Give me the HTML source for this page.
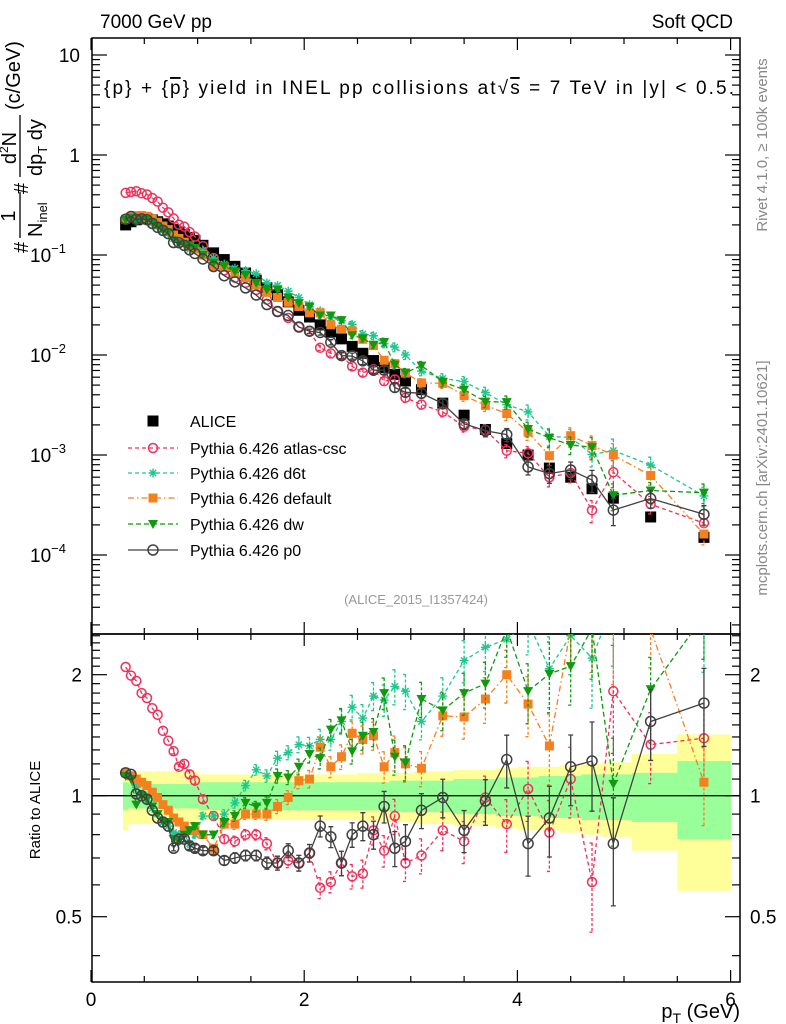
<!DOCTYPE html>
<html><head><meta charset="utf-8"><style>
body{margin:0;background:#fff;width:786px;height:1024px;overflow:hidden}
svg{font-family:"Liberation Sans",sans-serif;display:block}
</style></head><body>
<svg id="chart" width="786" height="1024" viewBox="0 0 786 1024" xmlns="http://www.w3.org/2000/svg">
<defs>
<clipPath id="clipTop"><rect x="92" y="38" width="648" height="596"/></clipPath>
<clipPath id="clipBot"><rect x="92" y="634" width="648" height="348"/></clipPath>
</defs>
<text x="100" y="28" font-size="19">7000 GeV pp</text>
<text x="733" y="28" font-size="19" text-anchor="end">Soft QCD</text>
<text x="104" y="94" font-size="19" textLength="630" lengthAdjust="spacing">{p} + {<tspan text-decoration="overline">p</tspan>} yield in INEL pp collisions at√<tspan text-decoration="overline">s</tspan> =  7 TeV in |y| &lt; 0.5.</text>
<text x="416" y="604" font-size="13" fill="#999" text-anchor="middle">(ALICE_2015_I1357424)</text>
<text transform="translate(767,145) rotate(-90)" font-size="15" fill="#888" text-anchor="middle">Rivet 4.1.0, ≥ 100k events</text>
<text transform="translate(767,478) rotate(-90)" font-size="15" fill="#888" text-anchor="middle">mcplots.cern.ch [arXiv:2401.10621]</text>
<g transform="rotate(-90)" font-size="20">
<text x="-253" y="28">#</text>
<text x="-216" y="15" text-anchor="middle">1</text>
<line x1="-238" y1="20" x2="-192" y2="20" stroke="#000" stroke-width="1.3"/>
<text x="-237" y="42">N<tspan font-size="13" dy="5">inel</tspan></text>
<text x="-194" y="28">#</text>
<text x="-148" y="16" text-anchor="middle">d<tspan font-size="12" dy="-8">2</tspan><tspan dy="8">N</tspan></text>
<line x1="-177" y1="20" x2="-115" y2="20" stroke="#000" stroke-width="1.3"/>
<text x="-176" y="42">dp<tspan font-size="13" dy="5">T</tspan><tspan dy="-5"> dy</tspan></text>
<text x="-110" y="20">(c/GeV)</text>
</g>
<text transform="translate(40,810) rotate(-90)" font-size="15" text-anchor="middle">Ratio to ALICE</text>
<text x="740" y="1018" font-size="20" text-anchor="end">p<tspan font-size="14" dy="5">T</tspan><tspan dy="-5"> (GeV)</tspan></text>
<g id="bands" clip-path="url(#clipBot)"></g>
<g id="axes"></g>
<g id="topData" clip-path="url(#clipTop)"></g>
<g id="botData" clip-path="url(#clipBot)"></g>
<g id="legend"></g>
</svg>
<script>
const pT=[0.325,0.375,0.425,0.475,0.525,0.575,0.625,0.675,0.725,0.775,0.825,0.875,0.925,0.975,
1.05,1.15,1.25,1.35,1.45,1.55,1.65,1.75,1.85,1.95,2.05,2.15,2.25,2.35,2.45,2.55,2.65,2.75,2.85,2.95,
3.1,3.3,3.5,3.7,3.9,4.1,4.3,4.5,4.7,4.9,5.25,5.75];
const alice=[0.20,0.215,0.225,0.23,0.23,0.225,0.215,0.205,0.195,0.18,0.17,0.16,0.15,0.14,
0.125,0.105,0.09,0.077,0.066,0.056,0.047,0.040,0.034,0.028,0.024,0.020,0.017,0.0145,0.0122,0.0104,0.0088,0.0075,0.0064,0.0055,
0.0045,0.0033,0.0025,0.0018,0.0013,0.0010,0.00074,0.0006,0.00046,0.00037,0.00024,0.00015];
const rAtlas=[2.09,1.99,1.93,1.80,1.75,1.65,1.59,1.45,1.37,1.29,1.18,1.20,1.13,1.09,
0.98,0.89,0.78,0.77,0.80,0.80,0.76,0.68,0.69,0.68,0.72,0.59,0.61,0.68,0.63,0.64,0.82,0.73,0.89,0.68,
0.71,0.82,0.77,0.99,0.85,1.04,0.81,1.10,0.61,1.82,1.34,1.39];
const rD6t=[1.13,1.12,1.05,1.0,0.97,0.93,0.90,0.86,0.84,0.81,0.80,0.80,0.76,0.80,
0.89,0.89,0.90,0.96,1.06,1.16,1.12,1.24,1.28,1.34,1.33,1.38,1.38,1.53,1.66,1.56,1.77,1.73,1.87,1.82,
1.53,1.77,2.17,2.34,2.45,2.7,2.07,2.5,2.2,3.0,3.3,2.6];
const rDefault=[1.14,1.12,1.10,1.08,1.06,1.02,0.99,0.95,0.92,0.88,0.86,0.84,0.82,0.82,
0.80,0.74,0.85,0.85,0.90,0.90,0.90,0.94,0.99,1.09,1.10,1.32,1.18,1.25,1.43,1.38,1.41,1.18,1.28,1.20,
1.17,1.58,1.57,1.74,2.0,1.69,1.33,2.6,2.7,2.7,2.6,1.08];
const rDw=[1.12,1.10,0.95,1.0,0.98,0.94,0.90,0.86,0.86,0.78,0.77,0.80,0.82,0.84,
0.80,0.80,0.86,0.89,0.96,0.94,0.96,1.12,1.11,1.18,1.27,1.24,1.46,1.54,1.29,1.41,1.44,1.80,1.25,1.21,
1.74,1.63,1.80,1.90,2.6,1.82,2.01,2.10,2.6,1.07,1.84,2.8];
const rP0=[1.14,1.13,1.01,1.0,0.98,0.92,0.88,0.86,0.84,0.74,0.78,0.78,0.75,0.74,
0.73,0.73,0.69,0.70,0.71,0.71,0.68,0.68,0.73,0.68,0.72,0.84,0.79,0.68,0.80,0.84,0.80,0.94,0.74,0.77,
0.92,0.99,0.82,0.97,1.23,0.76,0.88,1.18,1.22,0.76,1.53,1.70];
const totRel=[0.18,0.15,0.15,0.15,0.15,0.15,0.15,0.15,0.15,0.15,0.15,0.15,0.15,0.15,
0.13,0.13,0.13,0.13,0.13,0.13,0.13,0.13,0.13,0.13,0.13,0.13,0.13,0.13,0.13,0.14,0.14,0.14,0.14,0.14,
0.15,0.15,0.16,0.16,0.17,0.18,0.18,0.19,0.20,0.21,0.27,0.42];
const statRel=[0.08,0.07,0.07,0.07,0.07,0.07,0.07,0.07,0.07,0.07,0.07,0.07,0.07,0.07,
0.08,0.08,0.08,0.08,0.08,0.08,0.08,0.08,0.08,0.08,0.08,0.08,0.08,0.08,0.08,0.08,0.08,0.08,0.09,0.09,
0.09,0.09,0.10,0.10,0.11,0.11,0.12,0.12,0.13,0.13,0.14,0.22];
const errRel=[0.01,0.01,0.01,0.01,0.01,0.01,0.01,0.01,0.01,0.015,0.015,0.015,0.02,0.02,
0.02,0.02,0.025,0.03,0.03,0.03,0.035,0.04,0.04,0.045,0.05,0.06,0.06,0.07,0.07,0.08,0.08,0.09,0.1,0.1,
0.1,0.11,0.12,0.13,0.15,0.17,0.2,0.2,0.25,0.3,0.2,0.22];
const yTickTop=["10","1","10^-1","10^-2","10^-3","10^-4"];
const xTickLabels=["0","2","4","6"];
const ratioTickLabels=["0.5","1","2"];

const NS="http://www.w3.org/2000/svg";
const X=v=>91+106.6*v;
const YT=v=>155-100*Math.log10(v);
const YR=r=>795.7-121*Math.log2(r);
function mk(tag,attrs,parent){const e=document.createElementNS(NS,tag);for(const k in attrs)e.setAttribute(k,attrs[k]);parent.appendChild(e);return e;}
const axes=document.getElementById('axes');
const bands=document.getElementById('bands');
const topG=document.getElementById('topData');
const botG=document.getElementById('botData');
const legG=document.getElementById('legend');

const edges=[pT[0]-0.025];
for(let i=1;i<pT.length;i++)edges.push((pT[i-1]+pT[i])/2);
edges.push(6.0);
for(let i=0;i<pT.length;i++){
  const y=mk('rect',{x:X(edges[i]),y:YR(1+totRel[i]),width:X(edges[i+1])-X(edges[i])+0.3,height:YR(1-totRel[i])-YR(1+totRel[i]),fill:'#ffff99'},bands);
  
  
}
for(let i=0;i<pT.length;i++){
  const g=mk('rect',{x:X(edges[i]),y:YR(1+statRel[i]),width:X(edges[i+1])-X(edges[i])+0.3,height:YR(1-statRel[i])-YR(1+statRel[i]),fill:'#99ff99'},bands);
  
  
}
const one=mk('line',{x1:92,x2:740,y1:YR(1),y2:YR(1),stroke:'#000','stroke-width':1.3},bands);



const f1=mk('rect',{x:92,y:38,width:648,height:596,fill:'none',stroke:'#000','stroke-width':1.5},axes);


const f2=mk('rect',{x:92,y:634,width:648,height:348,fill:'none',stroke:'#000','stroke-width':1.5},axes);



function tick(x1,y1,x2,y2){const t=mk('line',{x1,y1,x2,y2,stroke:'#000','stroke-width':1.2},axes);}
for(let v=0;v<=6.01;v+=0.5){
  const major=Math.abs(v-Math.round(v/2)*2)<0.01;const L=major?12:6;const x=X(v);if(x>740)continue;
  tick(x,38,x,38+L);tick(x,634,x,634-L);tick(x,634,x,634+L);tick(x,982,x,982-L);
}
xTickLabels.forEach((s,i)=>{const t=mk('text',{x:X(i*2),y:1006,'font-size':19,'text-anchor':'middle'},axes);t.textContent=s;
  
  });
for(let d=-5;d<=1;d++){for(let m=1;m<=9;m++){const v=m*Math.pow(10,d);const y=YT(v);if(y<38||y>634)continue;const L=m==1?15:8;tick(92,y,92+L,y);tick(740,y,740-L,y);}}
yTickTop.forEach((s,i)=>{const y=YT(Math.pow(10,1-i));const t=mk('text',{x:80,y:y+7,'font-size':19,'text-anchor':'end'},axes);
  
  
  if(s.includes('^')){const [b,e]=s.split('^');t.setAttribute('x',66);t.textContent=b;const sp=mk('tspan',{'font-size':13,dy:-9},t);sp.textContent=e.replace('-','−');}else t.textContent=s;});
for(let k=3;k<=25;k++){const r=k/10;const y=YR(r);if(y<634||y>982)continue;const L=(k==5||k==10||k==20)?15:8;tick(92,y,92+L,y);tick(740,y,740-L,y);}
ratioTickLabels.forEach(s=>{const y=YR(parseFloat(s));
  const a=mk('text',{x:82,y:y+7,'font-size':19,'text-anchor':'end'},axes);a.textContent=s;
  
  
  const b=mk('text',{x:750,y:y+7,'font-size':19},axes);b.textContent=s;
  
  });

function marker(g,type,color,x,y,s){
  if(type=='sqfill')return mk('rect',{x:x-s,y:y-s,width:2*s,height:2*s,fill:color},g);
  if(type=='circ')return mk('circle',{cx:x,cy:y,r:s,fill:'none',stroke:color,'stroke-width':1.5},g);
  if(type=='tri')return mk('path',{d:`M${x-s},${y-s*0.8}L${x+s},${y-s*0.8}L${x},${y+s}Z`,fill:color},g);
  if(type=='star'){const p=mk('path',{d:`M${x-s},${y}H${x+s}M${x},${y-s}V${y+s}M${x-s*0.7},${y-s*0.7}L${x+s*0.7},${y+s*0.7}M${x-s*0.7},${y+s*0.7}L${x+s*0.7},${y-s*0.7}`,stroke:color,'stroke-width':1.4,fill:'none'},g);return p;}
}
const series=[
  {name:'Pythia 6.426 atlas-csc',key:'atlas-csc',r:rAtlas,color:'#f0305a',m:'circ',s:4.5,dash:'4,3'},
  {name:'Pythia 6.426 d6t',key:'d6t',r:rD6t,color:'#1ec88c',m:'star',s:4.5,dash:'4,3'},
  {name:'Pythia 6.426 default',key:'default',r:rDefault,color:'#f58020',m:'sqfill',s:4.5,dash:'6,3,1.5,3'},
  {name:'Pythia 6.426 dw',key:'dw',r:rDw,color:'#119911',m:'tri',s:5,dash:'5,3'},
  {name:'Pythia 6.426 p0',key:'p0',r:rP0,color:'#404040',m:'circ',s:5,dash:''}
];
for(let i=0;i<pT.length;i++){const m=marker(topG,'sqfill','#000',X(pT[i]),YT(alice[i]),5.5);
  
  }
series.forEach(S=>{
  const vals=pT.map((p,i)=>alice[i]*S.r[i]);
  [[topG,vals.map(v=>YT(v)),'top'],[botG,S.r.map(r=>YR(r)),'ratio']].forEach(([g,ys,pan])=>{
    const d=pT.map((p,i)=>(i?'L':'M')+X(p).toFixed(1)+','+ys[i].toFixed(1)).join('');
    const ln=mk('path',{d,fill:'none',stroke:S.color,'stroke-width':1.3,'stroke-dasharray':S.dash},g);
    
    
    pT.forEach((p,i)=>{
      const v=pan=='top'?vals[i]:S.r[i];const f=pan=='top'?YT:YR;
      const y1=f(v*(1+errRel[i])),y2=f(v*Math.max(0.05,1-errRel[i]));
      if(y2-y1>4){const eb=mk('path',{d:`M${X(p)},${y1}V${y2}M${X(p)-2.5},${y1}h5M${X(p)-2.5},${y2}h5`,stroke:S.color,'stroke-width':1.3,'stroke-dasharray':S.dash?'3,2':''},g);
        
        }
      const mm=marker(g,S.m,S.color,X(p),ys[i],S.s);
      
      
    });
  });
});
const legY=[421,448,473,498,524,550];
const la=marker(legG,'sqfill','#000',153,legY[0],5.5);


const lt=mk('text',{x:190,y:legY[0]+6,'font-size':16},legG);lt.textContent='ALICE';


series.forEach((S,k)=>{const y=legY[k+1];
  const l=mk('line',{x1:128,x2:178,y1:y,y2:y,stroke:S.color,'stroke-width':1.3,'stroke-dasharray':S.dash},legG);
  
  
  const m=marker(legG,S.m,S.color,153,y,S.s);
  
  
  const t=mk('text',{x:190,y:y+6,'font-size':16},legG);t.textContent=S.name;
  
  
});
</script>
</body></html>
